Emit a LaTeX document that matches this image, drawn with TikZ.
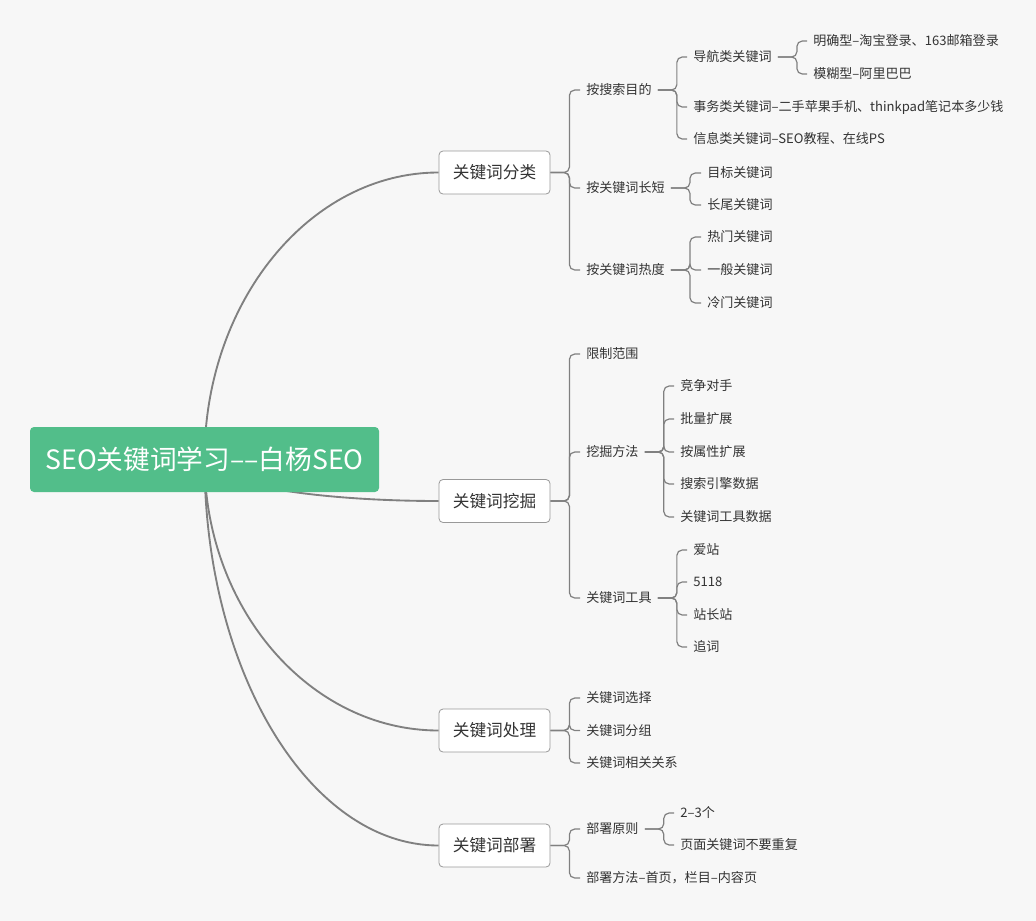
\documentclass[tikz,border=0pt]{standalone}
\usepackage{fontspec}
\setmainfont{Noto Sans CJK SC}
\usepackage{xcolor}
\usetikzlibrary{calc, backgrounds}
\definecolor{seogreen}{RGB}{82, 190, 138}
\definecolor{pagegray}{RGB}{247, 247, 247}
\definecolor{inkgray}{RGB}{51, 51, 51}
\definecolor{linegray}{RGB}{128, 128, 128}

\begin{document}
\begin{tikzpicture}[x=0.75pt, y=-0.75pt,
  topic/.style={rectangle, rounded corners=3pt, fill=seogreen, text=white,
    font=\fontsize{20}{23}\selectfont, minimum width=261.75pt,
    minimum height=48.75pt},
  subtopic/.style={rectangle, rounded corners=3pt, draw=linegray!80,
    fill=white, line width=0.6pt, text=inkgray,
    font=\fontsize{12.5}{15}\selectfont, minimum width=83.25pt,
    minimum height=32.25pt},
  leaf/.style={anchor=west, inner xsep=4.5pt, inner ysep=0pt, text=inkgray,
    font=\fontsize{9.8}{12}\selectfont, text height=8.6pt, text depth=1.2pt},
  wire/.style={draw=linegray, line width=1.4pt},
  twig/.style={draw=linegray, line width=0.9pt, rounded corners=4pt}
]
  \useasboundingbox (0,0) rectangle (1036,921);

  \node[topic] (root) at (204.5,459.5) {SEO关键词学习––白杨SEO};

  \node[subtopic] (b1) at (494.5,172.5) {关键词分类};
  \node[subtopic] (b2) at (494.5,501) {关键词挖掘};
  \node[subtopic] (b3) at (494.5,730.5) {关键词处理};
  \node[subtopic] (b4) at (494.5,845.5) {关键词部署};

  % 关键词分类
  \node[leaf] (c11) at (580,90) {按搜索目的};
  \node[leaf] (c12) at (580,188) {按关键词长短};
  \node[leaf] (c13) at (580,270) {按关键词热度};
  \node[leaf] (d11) at (687,57) {导航类关键词};
  \node[leaf] (d12) at (687,107) {事务类关键词–二手苹果手机、thinkpad笔记本多少钱};
  \node[leaf] (d13) at (687,139) {信息类关键词–SEO教程、在线PS};
  \node[leaf] (e11) at (807,41) {明确型–淘宝登录、163邮箱登录};
  \node[leaf] (e12) at (807,74) {模糊型–阿里巴巴};
  \node[leaf] (d21) at (701,173) {目标关键词};
  \node[leaf] (d22) at (701,205) {长尾关键词};
  \node[leaf] (d31) at (701,237) {热门关键词};
  \node[leaf] (d32) at (701,270) {一般关键词};
  \node[leaf] (d33) at (701,303) {冷门关键词};

  % 关键词挖掘
  \node[leaf] (c21) at (580,354) {限制范围};
  \node[leaf] (c22) at (580,452) {挖掘方法};
  \node[leaf] (c23) at (580,598) {关键词工具};
  \node[leaf] (f1) at (674,386) {竞争对手};
  \node[leaf] (f2) at (674,419) {批量扩展};
  \node[leaf] (f3) at (674,452) {按属性扩展};
  \node[leaf] (f4) at (674,484) {搜索引擎数据};
  \node[leaf] (f5) at (674,517) {关键词工具数据};
  \node[leaf] (g1) at (687,550) {爱站};
  \node[leaf] (g2) at (687,582) {5118};
  \node[leaf] (g3) at (687,615) {站长站};
  \node[leaf] (g4) at (687,647) {追词};

  % 关键词处理
  \node[leaf] (c31) at (580,698) {关键词选择};
  \node[leaf] (c32) at (580,730.5) {关键词分组};
  \node[leaf] (c33) at (580,763) {关键词相关关系};

  % 关键词部署
  \node[leaf] (c41) at (580,829) {部署原则};
  \node[leaf] (c42) at (580,878) {部署方法–首页，栏目–内容页};
  \node[leaf] (h1) at (674,813) {2–3个};
  \node[leaf] (h2) at (674,845) {页面关键词不要重复};

  \begin{scope}[on background layer]
    \fill[pagegray] (0,0) rectangle (1036,921);
    \foreach \b in {b1,b2,b3,b4}
      \draw[wire] (root.center)
        .. controls ($(root.center)!.55!(root.center |- \b.west)$)
        and ($(\b.west)!.55!(root.center |- \b.west)$) .. (\b.west);
    \foreach \p/\c in {b1/c11, b1/c12, b1/c13, c11/d11, c11/d12, c11/d13,
        d11/e11, d11/e12, c12/d21, c12/d22, c13/d31, c13/d32, c13/d33,
        b2/c21, b2/c22, b2/c23, c22/f1, c22/f2, c22/f3, c22/f4, c22/f5,
        c23/g1, c23/g2, c23/g3, c23/g4, b3/c31, b3/c32, b3/c33,
        b4/c41, b4/c42, c41/h1, c41/h2}
      \draw[twig] (\p.east) -- ++(19,0) |- (\c.west);
  \end{scope}
\end{tikzpicture}
\end{document}
